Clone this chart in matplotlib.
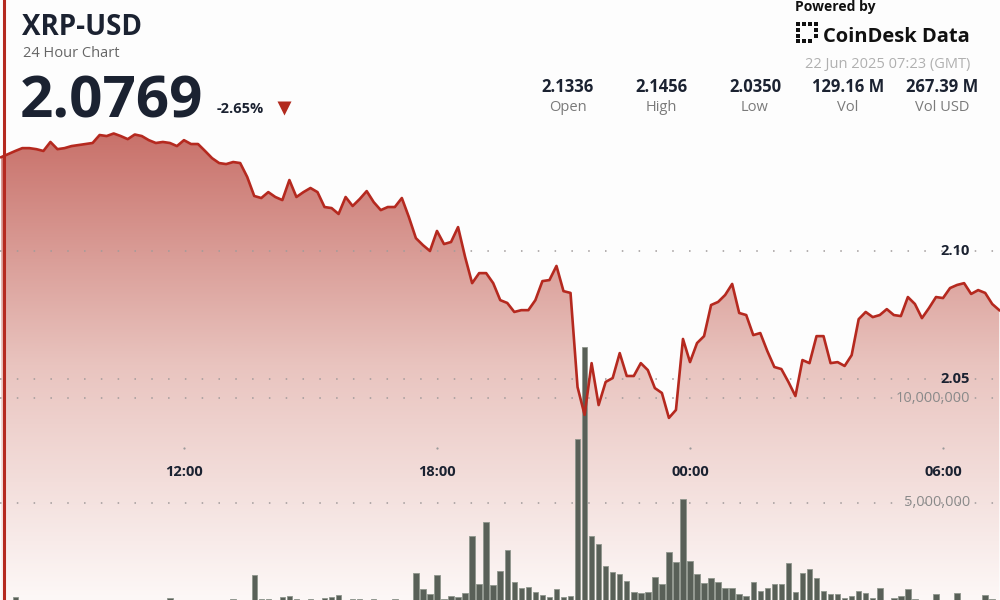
import numpy as np
import pandas as pd
import matplotlib
matplotlib.use('Agg')
import matplotlib.pyplot as plt
import matplotlib.dates as mdates
from matplotlib.colors import LinearSegmentedColormap
from matplotlib.lines import Line2D
from matplotlib.patches import Rectangle

plt.rcParams['font.family'] = ['Open Sans', 'DejaVu Sans']

# ---------------- data ----------------
symbol = 'XRP-USD'
subtitle = '24 Hour Chart'
last_price = '2.0769'
change_pct = '-2.65%'
timestamp = '22 Jun 2025 07:23 (GMT)'
brand_top = 'Powered by'
brand_name = 'CoinDesk Data'
stat_values = ['2.1336', '2.1456', '2.0350', '129.16 M', '267.39 M']
stat_labels = ['Open', 'High', 'Low', 'Vol', 'Vol USD']

start_time = '2025-06-21 07:40'
interval = '10min'

price = [
    2.1364, 2.1376, 2.1388, 2.1399, 2.1399, 2.1395, 2.1388, 2.1423, 2.1395, 2.1399,
    2.1407, 2.1411, 2.1415, 2.1419, 2.1450, 2.1446, 2.1456, 2.1446, 2.1434, 2.1452,
    2.1446, 2.1430, 2.1419, 2.1423, 2.1419, 2.1407, 2.1430, 2.1415, 2.1415, 2.1388,
    2.1360, 2.1341, 2.1337, 2.1345, 2.1341, 2.1287, 2.1213, 2.1205, 2.1228, 2.1209,
    2.1197, 2.1275, 2.1209, 2.1228, 2.1244, 2.1228, 2.1170, 2.1166, 2.1143, 2.1209,
    2.1174, 2.1201, 2.1232, 2.1189, 2.1158, 2.1170, 2.1170, 2.1205, 2.1131, 2.1049,
    2.1022, 2.0999, 2.1077, 2.1026, 2.1034, 2.1092, 2.0976, 2.0874, 2.0913, 2.0913,
    2.0874, 2.0808, 2.0797, 2.0762, 2.0769, 2.0769, 2.0808, 2.0882, 2.0886, 2.0941,
    2.0843, 2.0836, 2.0470, 2.0362, 2.0563, 2.0400, 2.0490, 2.0505, 2.0602, 2.0513,
    2.0513, 2.0563, 2.0536, 2.0466, 2.0447, 2.0350, 2.0381, 2.0657, 2.0567, 2.0641,
    2.0668, 2.0789, 2.0801, 2.0828, 2.0871, 2.0758, 2.0750, 2.0672, 2.0680, 2.0610,
    2.0548, 2.0540, 2.0490, 2.0435, 2.0575, 2.0563, 2.0668, 2.0668, 2.0563, 2.0567,
    2.0552, 2.0594, 2.0734, 2.0762, 2.0742, 2.0750, 2.0773, 2.0750, 2.0746, 2.0820,
    2.0793, 2.0738, 2.0777, 2.0820, 2.0816, 2.0855, 2.0867, 2.0874, 2.0832, 2.0847,
    2.0836, 2.0793, 2.0769,
]

volume_m = [
    0.22, 0.18, 0.46, 0.25, 0.20, 0.28, 0.22, 0.18, 0.34, 0.20,
    0.26, 0.21, 0.18, 0.24, 0.20, 0.27, 0.19, 0.22, 0.25, 0.18,
    0.21, 0.26, 0.20, 0.23, 0.42, 0.20, 0.24, 0.19, 0.22, 0.27,
    0.20, 0.25, 0.30, 0.37, 0.28, 0.30, 1.53, 0.40, 0.40, 0.24,
    0.49, 0.53, 0.40, 0.25, 0.40, 0.26, 0.45, 0.46, 0.59, 0.28,
    0.40, 0.38, 0.27, 0.40, 0.24, 0.29, 0.40, 0.30, 0.31, 1.61,
    0.85, 0.62, 1.53, 0.40, 0.53, 0.46, 0.68, 3.40, 1.10, 4.07,
    1.05, 1.70, 2.73, 1.21, 0.90, 0.97, 0.73, 0.57, 0.49, 0.85,
    0.46, 0.53, 8.03, 12.44, 3.41, 3.00, 1.96, 1.69, 1.58, 1.26,
    0.73, 0.68, 0.70, 1.42, 1.08, 2.63, 2.17, 5.17, 2.20, 1.56,
    1.14, 1.37, 1.21, 0.92, 0.90, 0.63, 0.55, 1.21, 0.78, 0.90,
    1.09, 1.09, 2.09, 0.72, 1.65, 1.81, 1.39, 0.78, 0.61, 0.61,
    0.42, 0.54, 0.75, 0.67, 0.42, 0.91, 0.25, 0.42, 0.53, 0.85,
    0.37, 0.27, 0.24, 0.62, 0.28, 0.23, 0.66, 0.26, 0.30, 0.22,
    0.57, 0.37, 0.25,
]

price_ticks = [2.05, 2.10]
volume_ticks = [5_000_000, 10_000_000]
time_ticks = ['2025-06-21 12:00', '2025-06-21 18:00', '2025-06-22 00:00', '2025-06-22 06:00']

# ---------------- style ----------------
NAVY = '#1b2231'
GREY = '#7a7a7a'
RED_LINE = '#b5291f'
BG = '#fdfdfd'
GRID = '#a09a9a'

W, H = 1000, 600
fig = plt.figure(figsize=(W / 100, H / 100), dpi=100, facecolor=BG)

def fx(px):
    return px / W

def fy(py):
    return 1 - py / H

times = pd.date_range(start_time, periods=len(price), freq=interval)
x = mdates.date2num(times.to_pydatetime())
volume = np.array(volume_m) * 1e6
price = np.array(price)

midnight = pd.Timestamp('2025-06-22 00:00')
px_per_hour = 42.17
x_left = mdates.date2num((midnight - pd.Timedelta(hours=690 / px_per_hour)).to_pydatetime())
x_right = mdates.date2num((midnight + pd.Timedelta(hours=310 / px_per_hour)).to_pydatetime())

p_bottom, p_top = 1.9642, 2.1975
v_bottom, v_top = 0.335e6, 29.07e6

ax_fill = fig.add_axes([0, 0, 1, 1])
ax_vol = fig.add_axes([0, 0, 1, 1])
ax_line = fig.add_axes([0, 0, 1, 1])
for a in (ax_fill, ax_vol, ax_line):
    a.set_xlim(x_left, x_right)
    a.axis('off')
    a.patch.set_alpha(0)
ax_fill.set_ylim(p_bottom, p_top)
ax_line.set_ylim(p_bottom, p_top)
ax_vol.set_ylim(v_bottom, v_top)

# gradient area under the price line
cmap = LinearSegmentedColormap.from_list('area', ['#fdf8f7', '#e9c4bf', '#c87069'])
grad = np.linspace(0, 1, 256).reshape(-1, 1)
img = ax_fill.imshow(grad, extent=[x_left, x_right, p_bottom, price.max() + 0.001],
                     origin='lower', aspect='auto', cmap=cmap, zorder=1,
                     interpolation='bicubic')
area = ax_fill.fill_between(x, price, p_bottom, facecolor='none', edgecolor='none')
img.set_clip_path(area.get_paths()[0], transform=ax_fill.transData)
ax_fill.set_xlim(x_left, x_right)
ax_fill.set_ylim(p_bottom, p_top)

# volume bars
ax_vol.bar(x, volume, width=7.8 / 1440, color='#596058', edgecolor='#8f968d',
           linewidth=0.6, zorder=2)

# grid lines (dotted)
for p in price_ticks:
    ax_line.axhline(p, color=GRID, lw=1.1, ls=(0, (1, 10)), zorder=1)
for v in volume_ticks:
    ax_vol.axhline(v, color=GRID, lw=1.1, ls=(0, (1, 10)), zorder=3)

# price line
ax_line.plot(x, price, color=RED_LINE, lw=1.9, solid_joinstyle='round', zorder=5)

# right-hand labels
for p in price_ticks:
    ax_line.text(0.970, p, f'{p:.2f}', transform=ax_line.get_yaxis_transform(),
                 ha='right', va='center', fontsize=10.5, fontweight='bold', color=NAVY, zorder=6)
for v in volume_ticks:
    ax_vol.text(0.970, v, f'{v:,.0f}', transform=ax_vol.get_yaxis_transform(),
                ha='right', va='center', fontsize=10.5, color='#8a8a8a', zorder=6)

# time labels
for t in time_ticks:
    tx = mdates.date2num(pd.Timestamp(t).to_pydatetime())
    ax_line.plot([tx], [fy(448)], transform=ax_line.get_xaxis_transform(),
                 marker='o', ms=1.6, color='#9a9a9a', mec='none', zorder=6)
    ax_line.text(tx, fy(472), pd.Timestamp(t).strftime('%H:%M'),
                 transform=ax_line.get_xaxis_transform(), ha='center', va='center',
                 fontsize=10.5, fontweight='bold', color=NAVY, zorder=6)

# left red border
fig.add_artist(Line2D([fx(3.5), fx(3.5)], [0, 1], transform=fig.transFigure,
                      color='#b52a20', lw=2.2, zorder=10))

# ---------------- header ----------------
fig.text(fx(22), fy(35), symbol, fontsize=20, fontweight='bold', color=NAVY, va='baseline')
fig.text(fx(23), fy(57), subtitle, fontsize=10.5, color='#666666', va='baseline')
fig.text(fx(20), fy(117), last_price, fontsize=42, fontweight='bold', color=NAVY, va='baseline')
fig.text(fx(217), fy(113), change_pct, fontsize=10.5, fontweight='bold', color=NAVY, va='baseline')
fig.add_artist(Line2D([fx(284)], [fy(108)], transform=fig.transFigure, marker='v',
                      ms=10, color='#b22a1e', mec='none', ls='none'))

# brand
fig.text(fx(795), fy(11), brand_top, fontsize=10, fontweight='bold', color='#111111', va='baseline')
fig.text(fx(823), fy(42), brand_name, fontsize=14.5, fontweight='bold', color='#111111', va='baseline')
logo_sq = [(796, 22), (796, 28), (796, 34), (796, 39), (802, 22), (808, 22), (814, 22),
           (802, 39), (808, 39), (814, 28), (814, 34)]
for sx, sy in logo_sq:
    fig.add_artist(Rectangle((fx(sx), fy(sy + 4)), 4 / W, 4 / H, transform=fig.transFigure,
                             facecolor='#111111', edgecolor='none'))
fig.text(fx(970), fy(68), timestamp, fontsize=10.5, color='#b0b0b0', ha='right', va='baseline')

stat_x = [568, 661, 755, 848, 942]
for sx, val, lab in zip(stat_x, stat_values, stat_labels):
    fig.text(fx(sx), fy(92), val, fontsize=12, fontweight='bold', color=NAVY,
             ha='center', va='baseline')
    fig.text(fx(sx), fy(111), lab, fontsize=10.5, color=GREY, ha='center', va='baseline')

fig.savefig('out.png', dpi=100, facecolor=BG)
